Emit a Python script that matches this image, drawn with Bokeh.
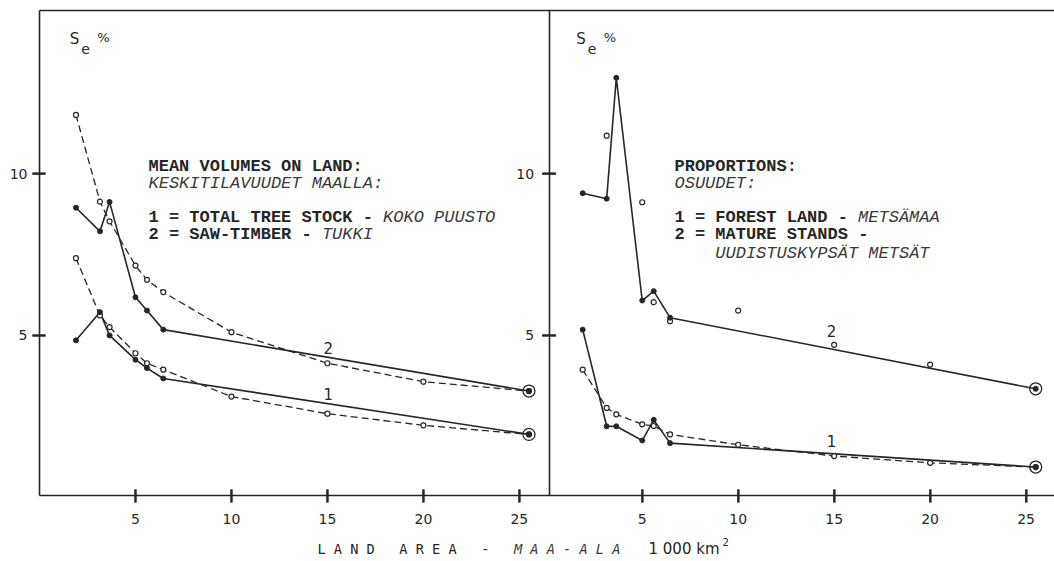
import math
from bokeh.plotting import figure
from bokeh.models import Range1d, FixedTicker, Label, LinearAxis
from bokeh.embed import file_html
from bokeh.resources import INLINE

NaN = float("nan")

# ---------------- data ----------------
# land area, 1000 km^2
area = [1.9, 3.15, 3.65, 5.0, 5.6, 6.45, 10, 15, 20, 25.5]
obs_idx = [0, 1, 2, 3, 4, 5, 9]          # samples joined by the solid lines
area_obs = [area[i] for i in obs_idx]

# left panel: mean volumes on land
left_total_obs = [4.85, 5.72, 5.00, 4.25, 3.99, 3.67, 1.94]
left_total_est = [7.39, 5.62, 5.26, 4.45, 4.14, 3.94, 3.11, 2.58, 2.22, 1.94]
left_saw_obs = [8.95, 8.22, 9.13, 6.18, 5.77, 5.18, 3.28]
left_saw_est = [11.82, 9.14, 8.53, 7.16, 6.72, 6.34, 5.10, 4.14, 3.57, 3.28]

# right panel: proportions
right_forest_obs = [5.18, 2.19, 2.19, 1.75, 2.39, 1.67, 0.93]
right_forest_est = [3.94, 2.76, 2.56, 2.25, 2.20, 1.94, 1.62, 1.27, 1.06, 0.93]
right_mature_obs = [9.40, 9.23, 12.97, 6.08, 6.37, 5.55, 3.35]
right_mature_est = [NaN, 11.18, NaN, 9.12, 6.03, 5.44, 5.77, 4.71, 4.10, NaN]

x_ticks = [5, 10, 15, 20, 25]
y_ticks = [5, 10]

# ---------------- layout constants ----------------
INK = "#262626"
ITAL = "#3a3a3a"
MONO = "Liberation Mono"
SANS = "DejaVu Sans"
W, H = 1054, 560
LEFT_END = 26.55      # left panel value at the divider
RIGHT_START = 0.15    # right panel value at the divider
RIGHT_END = 26.48
OFFSET = LEFT_END - RIGHT_START
Y0, Y1 = 0.05, 15.05  # bottom axis / top border values

FRAME_L, FRAME_T, AXIS_Y = 39, 10, 495
PXU = (W - FRAME_L) / (OFFSET + RIGHT_END)
PYU = (AXIS_Y - FRAME_T) / (Y1 - Y0)
XEND = OFFSET + RIGHT_END


def lx(px):
    return (px - FRAME_L) / PXU


def ly(py):
    return Y0 + (AXIS_Y - py) / PYU


p = figure(width=W, height=H, output_backend="svg", toolbar_location=None,
           x_range=Range1d(lx(0), XEND), y_range=Range1d(ly(H), ly(0)),
           min_border_left=0, min_border_right=0,
           min_border_top=0, min_border_bottom=0)
p.extra_x_ranges = {"right": Range1d(RIGHT_START - LEFT_END + lx(0), RIGHT_END)}
p.grid.visible = False
p.outline_line_color = None
p.background_fill_color = "white"
p.border_fill_color = "white"

TICK_IN, TICK_OUT, TICK_W = 6, 7, 2.0


def style_axis(ax, standoff):
    ax.axis_line_color = INK
    ax.axis_line_width = 1.6
    ax.major_tick_line_color = INK
    ax.major_tick_line_width = 2
    ax.major_tick_in = TICK_IN
    ax.major_tick_out = TICK_OUT
    ax.minor_tick_line_color = None
    ax.major_label_text_font = SANS
    ax.major_label_text_font_size = "14px"
    ax.major_label_text_color = INK
    ax.major_label_standoff = standoff


all_ticks = x_ticks + [round(t + OFFSET, 4) for t in x_ticks]
overrides = {pos: str(t) for pos, t in zip(all_ticks, x_ticks + x_ticks)}
xa = p.xaxis[0]
style_axis(xa, 11)
xa.fixed_location = Y0
xa.bounds = (0, XEND)
xa.ticker = FixedTicker(ticks=all_ticks)
xa.major_label_overrides = overrides

ya = p.yaxis[0]
style_axis(ya, 5)
ya.fixed_location = 0
ya.bounds = (Y0, Y1)
ya.ticker = FixedTicker(ticks=y_ticks)

# divider between the panels: y axis of the right panel
div_axis = LinearAxis(fixed_location=LEFT_END, bounds=(Y0, Y1),
                      ticker=FixedTicker(ticks=y_ticks))
style_axis(div_axis, 8)
p.add_layout(div_axis, "left")

# frame top
top_axis = LinearAxis(fixed_location=Y1, bounds=(0, XEND),
                      ticker=FixedTicker(ticks=[]))
top_axis.axis_line_color = INK
top_axis.axis_line_width = 1.6
top_axis.major_tick_line_color = None
top_axis.minor_tick_line_color = None
top_axis.major_label_text_color = None
p.add_layout(top_axis, "above")

# tick marks crossing the axis lines, drawn as thin filled bars
hw_x, hw_y = TICK_W / 2 / PXU, TICK_W / 2 / PYU
ti_x, to_x = TICK_IN / PXU, TICK_OUT / PXU
ti_y, to_y = TICK_IN / PYU, TICK_OUT / PYU
n, m = len(x_ticks), len(y_ticks)
for rname in (None, "right"):
    kw = {} if rname is None else {"x_range_name": rname}
    p.quad(left=[t - hw_x for t in x_ticks], right=[t + hw_x for t in x_ticks],
           bottom=[Y0 - to_y] * n, top=[Y0 + ti_y] * n,
           fill_color=INK, line_color=None, **kw)
p.quad(left=[0 - to_x] * m, right=[0 + ti_x] * m,
       bottom=[t - hw_y for t in y_ticks], top=[t + hw_y for t in y_ticks],
       fill_color=INK, line_color=None)
p.quad(left=[LEFT_END - to_x] * m, right=[LEFT_END + to_x] * m,
       bottom=[t - hw_y for t in y_ticks], top=[t + hw_y for t in y_ticks],
       fill_color=INK, line_color=None)


def panel(obs1, est1, obs2, est2, est2_line, rname):
    kw = {} if rname is None else {"x_range_name": rname}
    for obs, est, draw_est_line in ((obs1, est1, True), (obs2, est2, est2_line)):
        if draw_est_line:
            p.line(area, est, line_color=INK, line_width=1.3, line_dash="7 4", **kw)
        p.line(area_obs, obs, line_color=INK, line_width=1.6, **kw)
        p.scatter(area, est, size=5, fill_color="white", line_color=INK,
                  line_width=1.2, **kw)
        p.scatter(area_obs, obs, size=5, fill_color=INK, line_color=INK, **kw)
        p.scatter(area_obs[-1:], obs[-1:], size=12, fill_color=None,
                  line_color=INK, line_width=1.3, **kw)


panel(left_total_obs, left_total_est, left_saw_obs, left_saw_est, True, None)
panel(right_forest_obs, right_forest_est, right_mature_obs, right_mature_est,
      False, "right")


def lab(text, px, py, font=MONO, size=17, style="normal", align="left",
        baseline="alphabetic", xoff=0, color=INK):
    p.add_layout(Label(x=lx(px), y=ly(py), text=text, x_offset=xoff,
                       text_font=font, text_font_size=f"{size}px",
                       text_font_style=style, text_align=align,
                       text_baseline=baseline, text_color=color))


CH = 0.6 * 17  # monospace advance
# left legend
lab("MEAN VOLUMES ON LAND:", 148, 166, style="bold")
lab("KESKITILAVUUDET MAALLA:", 148, 183, style="italic", color=ITAL)
lab("1 = TOTAL TREE STOCK -", 148, 217, style="bold")
lab("KOKO PUUSTO", 148, 217, style="italic", xoff=23 * CH, color=ITAL)
lab("2 = SAW-TIMBER -", 148, 234, style="bold")
lab("TUKKI", 148, 234, style="italic", xoff=17 * CH, color=ITAL)
# right legend
lab("PROPORTIONS:", 674, 166, style="bold")
lab("OSUUDET:", 674, 183, style="italic", color=ITAL)
lab("1 = FOREST LAND -", 674, 217, style="bold")
lab("METSÄMAA", 674, 217, style="italic", xoff=18 * CH, color=ITAL)
lab("2 = MATURE STANDS -", 674, 234, style="bold")
lab("UUDISTUSKYPSÄT METSÄT", 674, 253, style="italic", xoff=4 * CH, color=ITAL)

# S_e % headers
for x0 in (74, 580.5):
    lab("S", x0, 38.5, font=SANS, size=15, align="center", baseline="middle")
    lab("e", x0 + 11, 48, font=SANS, size=14, align="center", baseline="middle")
    lab("%", x0 + 29, 37, font=SANS, size=13, align="center", baseline="middle")

# curve numbers
lab("2", 327.7, 347.7, font=SANS, size=15, align="center", baseline="middle")
lab("1", 327.7, 393, font=SANS, size=15, align="center", baseline="middle")
lab("2", 831, 330.7, font=SANS, size=15, align="center", baseline="middle")
lab("1", 831, 440, font=SANS, size=15, align="center", baseline="middle")

# x axis title
TMONO = "DejaVu Sans Mono"
TC = 0.602 * 13.6
TX = 317
TY = 548
for word, idx in (("L A N D", 0), ("A R E A", 10), ("-", 20)):
    lab(word, TX + idx * TC, TY, font=TMONO, size=13.6, baseline="middle")
lab("M A A - A L A", TX + 24 * TC, TY, font=TMONO, size=13.6, style="italic",
    baseline="middle", color=ITAL)
lab("1 000 km", 648, TY, font=SANS, size=15, baseline="middle")
lab("2", 722, TY - 7, font=SANS, size=10, baseline="middle")

open("out.html", "w").write(file_html(p, INLINE))
